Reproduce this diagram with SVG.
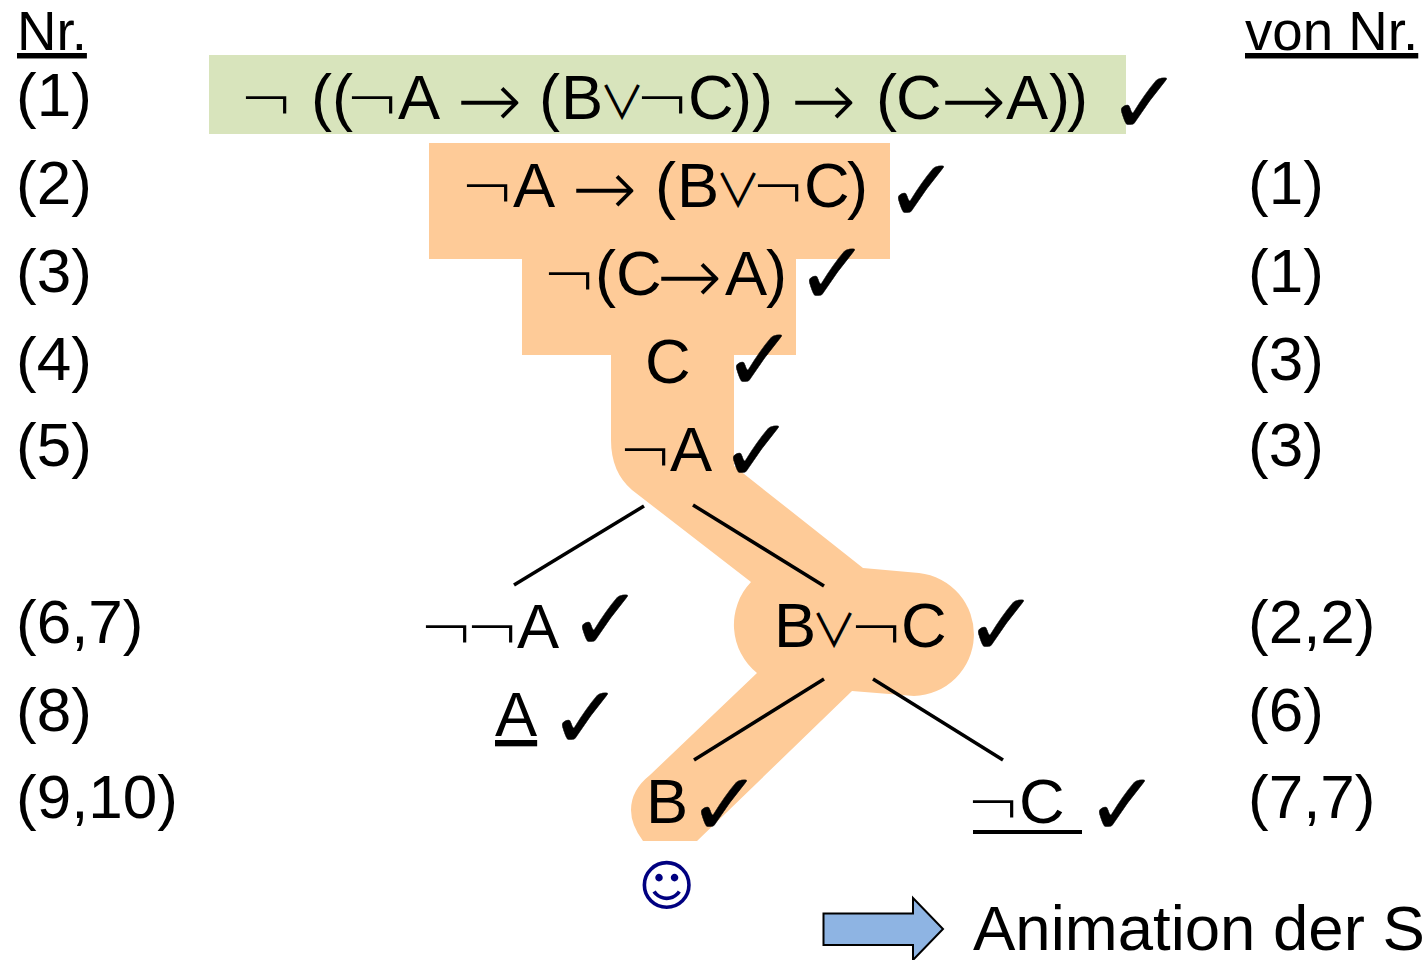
<svg xmlns="http://www.w3.org/2000/svg" width="1423" height="960" viewBox="0 0 1423 960">
<style>
text{font-family:"Liberation Sans",Arial,sans-serif;fill:#000}
.n{font-size:62px}
.h{font-size:54.700px;text-decoration:underline}
.f{font-size:63.200px}
.no{font-family:"DejaVu Sans",sans-serif;font-weight:200;font-size:66px}
.ar{font-family:"DejaVu Sans",sans-serif;font-weight:200;font-size:78px}
.vl{font-family:"Noto Sans CJK SC",sans-serif;font-weight:400;font-size:46px}
.c{font-family:"DejaVu Sans",sans-serif;font-size:88px;stroke:#000;stroke-width:.4}
.conn{stroke:#000;stroke-width:3.500;fill:none}
</style>
<rect id="green-bar" x="209" y="55" width="917" height="79" fill="#D8E4BC"/>
<path id="orange-path" fill="#FECB98" d="M429 143H890V259H796V355H734V466L863 568L919 573A61.700 61.700 0 0 1 914 696L852 691L697 841H643Q631 825 631 810Q631 790 650 775L757 673A62 62 0 0 1 751 582L632 490Q611 472 611 440V355H522V259H429Z"/>
<g id="connectors">
<line class="conn" x1="644" y1="506" x2="514" y2="585"/>
<line class="conn" x1="693" y1="505" x2="824" y2="586"/>
<line class="conn" x1="824" y1="679" x2="694" y2="760"/>
<line class="conn" x1="873" y1="679" x2="1003" y2="760"/>
</g>
<g id="numbers">
<text class="h" x="17" y="50">Nr.</text>
<text class="n" x="16" y="115.500">(1)</text>
<text class="n" x="16" y="203.500">(2)</text>
<text class="n" x="16" y="291.500">(3)</text>
<text class="n" x="16" y="379.500">(4)</text>
<text class="n" x="16" y="465.500">(5)</text>
<text class="n" x="16" y="642.500">(6,7)</text>
<text class="n" x="16" y="730.500">(8)</text>
<text class="n" x="16" y="817.500">(9,10)</text>
</g>
<g id="sources">
<text class="h" x="1245" y="50">von Nr.</text>
<text class="n" x="1248" y="203.500">(1)</text>
<text class="n" x="1248" y="291.500">(1)</text>
<text class="n" x="1248" y="379.500">(3)</text>
<text class="n" x="1248" y="465.500">(3)</text>
<text class="n" x="1248" y="642.500">(2,2)</text>
<text class="n" x="1248" y="730.500">(6)</text>
<text class="n" x="1248" y="817.500">(7,7)</text>
</g>
<g id="row1">
<text class="f"><tspan class="no" x="239" y="123">¬</tspan><tspan x="311 332" y="119">((</tspan><tspan class="no" x="345" y="123">¬</tspan><tspan x="398" y="119">A</tspan><tspan class="ar" x="457" y="127">→</tspan><tspan x="539 561" y="119">(B</tspan><tspan class="vl" x="599" y="119">∨</tspan><tspan class="no" x="635" y="123">¬</tspan><tspan x="688 731 752" y="119">C))</tspan><tspan class="ar" x="791" y="127">→</tspan><tspan x="876 896" y="119">(C</tspan><tspan class="ar" x="941" y="127">→</tspan><tspan x="1006 1049 1067" y="119">A))</tspan></text>
<text class="c" x="1108" y="133">✓</text>
</g>
<g id="row2">
<text class="f"><tspan class="no" x="460" y="211">¬</tspan><tspan x="513" y="207">A</tspan><tspan class="ar" x="572" y="215">→</tspan><tspan x="655 677" y="207">(B</tspan><tspan class="vl" x="715" y="207">∨</tspan><tspan class="no" x="751" y="211">¬</tspan><tspan x="804 847" y="207">C)</tspan></text>
<text class="c" x="885" y="221">✓</text>
</g>
<g id="row3">
<text class="f"><tspan class="no" x="542" y="299">¬</tspan><tspan x="595 616" y="295">(C</tspan><tspan class="ar" x="657" y="303">→</tspan><tspan x="725 766" y="295">A)</tspan></text>
<text class="c" x="796" y="304">✓</text>
</g>
<g id="row4">
<text class="f" x="645" y="383">C</text>
<text class="c" x="723" y="390">✓</text>
</g>
<g id="row5">
<text class="f"><tspan class="no" x="618" y="475">¬</tspan><tspan x="670" y="471">A</tspan></text>
<text class="c" x="720" y="481">✓</text>
</g>
<g id="row6">
<text class="f"><tspan class="no" x="419 465" y="652">¬¬</tspan><tspan x="517" y="648">A</tspan></text>
<text class="c" x="569" y="650">✓</text>
<text class="f"><tspan x="774" y="647">B</tspan><tspan class="vl" x="811" y="647">∨</tspan><tspan class="no" x="849" y="652">¬</tspan><tspan x="901" y="647">C</tspan></text>
<text class="c" x="965" y="655">✓</text>
</g>
<g id="row8">
<text class="f" x="495" y="736" text-decoration="underline">A</text>
<text class="c" x="549" y="748">✓</text>
</g>
<g id="row9">
<text class="f" x="646" y="823">B</text>
<text class="c" x="688" y="835">✓</text>
<text class="f"><tspan class="no" x="966" y="827">¬</tspan><tspan x="1019" y="823">C</tspan></text>
<rect x="973" y="830" width="109" height="4"/>
<text class="c" x="1086" y="835">✓</text>
</g>
<text id="smiley" x="638" y="905" font-size="55" style="font-family:'DejaVu Sans',sans-serif;fill:#000080">☺</text>
<g id="animation">
<path d="M823.500 913.500H913V898L943 929L913 960V945H823.500Z" fill="#8EB4E3" stroke="#000" stroke-width="2"/>
<text x="973" y="950" font-size="63.500">Animation der S</text>
</g>
</svg>
